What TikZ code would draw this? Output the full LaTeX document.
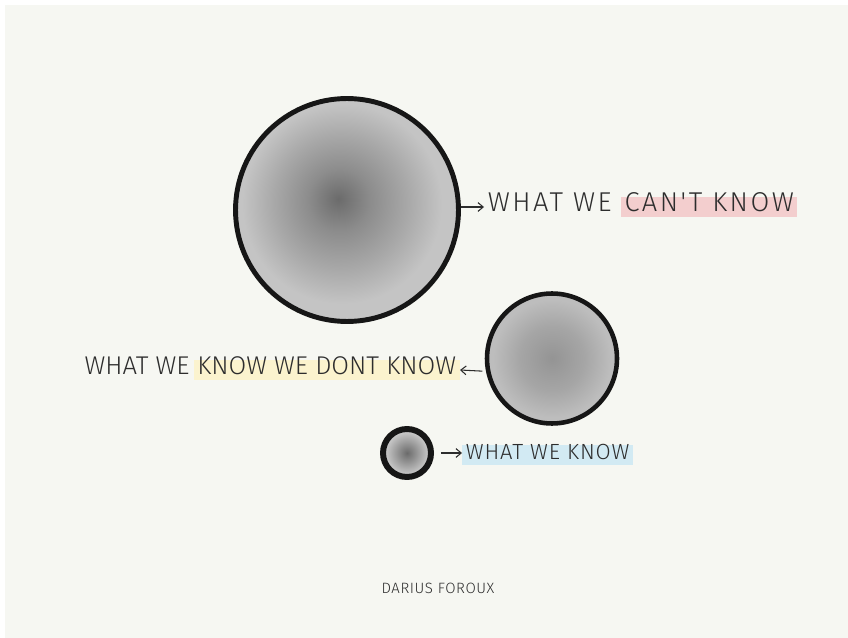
\documentclass[tikz,border=0pt]{standalone}
\usepackage{fontspec}
\usetikzlibrary{positioning,arrows.meta}
\newfontfamily\hand{Fira Sans}[UprightFont={* Light}]
\definecolor{paperWhite}{RGB}{246,247,242}
\definecolor{inkBlack}{RGB}{22,22,22}
\definecolor{markPink}{RGB}{243,206,206}
\definecolor{markYellow}{RGB}{251,243,206}
\definecolor{markBlue}{RGB}{210,234,243}
\pgfdeclareradialshading{washBig}{\pgfpoint{-2bp}{2.5bp}}{gray(0bp)=(0.42);gray(7bp)=(0.55);gray(15bp)=(0.66);gray(22.5bp)=(0.77);gray(50bp)=(0.77)}
\pgfdeclareradialshading{washMid}{\pgfpoint{0bp}{0bp}}{gray(0bp)=(0.58);gray(12.5bp)=(0.65);gray(22.5bp)=(0.74);gray(50bp)=(0.74)}
\pgfdeclareradialshading{washSmall}{\pgfpoint{0bp}{0bp}}{gray(0bp)=(0.42);gray(11bp)=(0.6);gray(22bp)=(0.78);gray(50bp)=(0.78)}
\tikzset{
  bubble/.style={circle,draw=inkBlack,line width=2.8pt,inner sep=0pt},
  hand/.style 2 args={font=\hand\fontsize{#1}{18}\selectfont\addfontfeatures{LetterSpace=#2},text=inkBlack!90,inner xsep=2pt,inner ysep=1.5pt,text height=1.55ex,text depth=.3ex},
  pointer/.style={draw=inkBlack!90,line width=0.6pt,-{Straight Barb[length=3pt,width=5pt]}}
}
\begin{document}
\begin{tikzpicture}[x=0.02cm,y=-0.02cm]
\useasboundingbox (0,0) rectangle (848,638);
\fill[white] (0,0) rectangle (848,638);
\fill[paperWhite] (5,5) rectangle (848,638);
\node[bubble,minimum size=4.46cm,shading=washBig] (cantKnow) at (347,210) {};
\node[bubble,minimum size=2.6cm,line width=2.6pt,shading=washMid] (dontKnow) at (552,358.5) {};
\node[bubble,minimum size=0.96cm,line width=3.4pt,shading=washSmall] (weKnow) at (407,453) {};
\node[hand={15.5}{9},anchor=west] (cantPlain) at (484,207) {WHAT WE};
\node[hand={15.5}{9},fill=markPink,right=3pt of cantPlain] (cantMark) {CAN'T KNOW};
\node[hand={14.6}{0},fill=markYellow,anchor=east] (dontMark) at (460,370) {KNOW WE DONT KNOW};
\node[hand={14.6}{0},left=0pt of dontMark] (dontPlain) {WHAT WE};
\node[hand={12.5}{4},fill=markBlue,anchor=west] (knowMark) at (462,455) {WHAT WE KNOW};
\node[hand={8.5}{4}] (author) at (438,589) {DARIUS FOROUX};
\draw[pointer] (cantPlain.west -| cantKnow.east) -- (cantPlain.west);
\draw[pointer,shorten <=2pt] (dontKnow.191) -- (dontMark.east);
\draw[pointer,shorten <=0.14cm] (weKnow.east) -- (weKnow.east -| knowMark.west);
\end{tikzpicture}
\end{document}
